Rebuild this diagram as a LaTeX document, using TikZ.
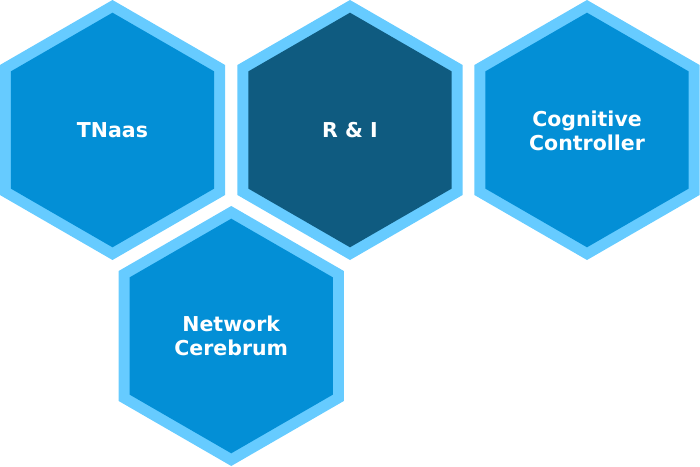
\documentclass[tikz,border=0pt]{standalone}
\usepackage{fontspec}
\setmainfont{DejaVu Sans}
\definecolor{hexrim}{HTML}{66CBFF}
\definecolor{hexmid}{HTML}{038FD6}
\definecolor{hexdark}{HTML}{0F5B80}
\tikzset{
  hexlabel/.style={text=white, font=\fontsize{20.5}{24}\selectfont\bfseries, align=center, inner sep=0pt},
}
\newcommand\myhex[3]{%
  \fill[hexrim, shift={(#1)}] (90:130) -- (150:130) -- (210:130) -- (270:130) -- (330:130) -- (30:130) -- cycle;
  \fill[#3, shift={(#1)}] (90:#2) -- (150:#2) -- (210:#2) -- (270:#2) -- (330:#2) -- (30:#2) -- cycle;
}
\begin{document}
\begin{tikzpicture}[x=1pt,y=1pt]
\useasboundingbox (0,0) rectangle (700,466);
\coordinate (c1) at (112.5,336);
\coordinate (c2) at (350,336);
\coordinate (c3) at (587,336);
\coordinate (c4) at (231.25,130);
\myhex{c1}{117.3}{hexmid}
\myhex{c2}{117.3}{hexdark}
\myhex{c3}{117.3}{hexmid}
\myhex{c4}{117.3}{hexmid}
\node[hexlabel] (t1) at (c1) {TNaas};
\node[hexlabel] (t2) at (c2) {R \& I};
\node[hexlabel] (t3) at ([yshift=-1pt]c3) {Cognitive\\Controller};
\node[hexlabel] (t4) at (c4) {Network\\Cerebrum};
\end{tikzpicture}
\end{document}
